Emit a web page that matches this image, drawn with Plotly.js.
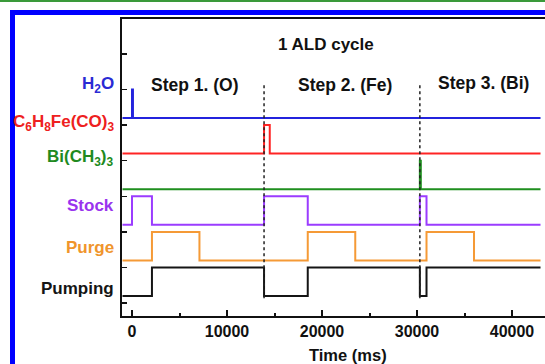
<!DOCTYPE html>
<html>
<head>
<meta charset="utf-8">
<script src="https://cdn.plot.ly/plotly-3.0.1.min.js"></script>
<style>html,body{margin:0;padding:0;background:#fff}#chart{width:545px;height:364px}</style>
</head>
<body>
<div id="chart"></div>
<script>
// Signal names (top to bottom)
const signalNames = ["H<sub>2</sub>O", "C<sub>6</sub>H<sub>8</sub>Fe(CO)<sub>3</sub>", "Bi(CH<sub>3</sub>)<sub>3</sub>", "Stock", "Purge", "Pumping"];
// Switching times (ms) and on/off states for each signal (step "hv")
const h2oTimes   = [-1000, 0, 100, 43000];
const h2oStates  = [0, 1, 0, 0];
const feTimes    = [-1000, 13900, 14500, 43000];
const feStates   = [0, 1, 0, 0];
const biTimes    = [-1000, 30300, 30400, 43000];
const biStates   = [0, 1, 0, 0];
const stockTimes = [-1000, 0, 2100, 13900, 18500, 30300, 31000, 43000];
const stockStates= [0, 1, 0, 1, 0, 1, 0, 0];
const purgeTimes = [-1000, 2100, 7100, 18500, 23500, 31000, 36000, 43000];
const purgeStates= [0, 1, 0, 1, 0, 1, 0, 0];
const pumpTimes  = [-1000, 2100, 13900, 18500, 30300, 31000, 43000];
const pumpStates = [0, 1, 0, 1, 0, 1, 1];
// Step boundaries (ms) and step labels
const stepBounds = [13900, 30300];
const stepLabels = ["Step 1. (O)", "Step 2. (Fe)", "Step 3. (Bi)"];
const stepLabelX = [6630, 22420, 36950];
const xTickVals = [0, 10000, 20000, 30000, 40000];

const colors = ["#2323dd", "#ff2424", "#1f8f1f", "#9b3cff", "#f59a36", "#151515"];
const labelColors = ["#2a2ad4", "#ee2020", "#208a20", "#9933ee", "#f0952c", "#151515"];
const series = [
  [h2oTimes, h2oStates], [feTimes, feStates], [biTimes, biStates],
  [stockTimes, stockStates], [purgeTimes, purgeStates], [pumpTimes, pumpStates]
];
const amp = 0.8;
const n = series.length;
const traces = series.map((s, i) => {
  const off = n - 1 - i;
  return {
    x: s[0], y: s[1].map(v => off + v * amp),
    type: 'scatter', mode: 'lines', line: {shape: 'hv', color: colors[i], width: 2},
    hoverinfo: 'skip', showlegend: false
  };
});

const fontB = {family: 'Liberation Sans, Arial, sans-serif', size: 16, weight: 'bold', color: '#111'};
const labelY = [5.93, 4.86, 3.88, 2.53, 1.35, 0.22];
const annotations = [];
signalNames.forEach((t, i) => annotations.push({
  text: t, xref: 'paper', yref: 'y', x: -0.014, y: labelY[i], xanchor: 'right', yanchor: 'middle',
  showarrow: false, font: Object.assign({}, fontB, {color: labelColors[i], size: 17})
}));
stepLabels.forEach((t, i) => annotations.push({
  text: t, xref: 'x', yref: 'y', x: stepLabelX[i], y: i === 2 ? 5.98 : 5.93, xanchor: 'center', yanchor: 'middle',
  showarrow: false, font: Object.assign({}, fontB, {size: 17.5})
}));
annotations.push({text: '1 ALD cycle', xref: 'x', yref: 'paper', x: 20470, y: 0.915, xanchor: 'center', yanchor: 'middle',
  showarrow: false, font: Object.assign({}, fontB, {size: 17})});
annotations.push({text: 'Time (ms)', xref: 'x', yref: 'paper', x: 22740, y: -0.131, xanchor: 'center', yanchor: 'middle',
  showarrow: false, font: Object.assign({}, fontB, {size: 16.5})});

const shapes = stepBounds.map(b => ({
  type: 'line', xref: 'x', yref: 'y', x0: b, x1: b, y0: -0.06, y1: 5.98,
  line: {color: '#222', width: 1.5, dash: 'dot'}
}));
// decorative frame lines
shapes.push({type: 'line', xref: 'paper', yref: 'paper', x0: -0.3, x1: 1.1, y0: 1 + 18/297, y1: 1 + 18/297, line: {color: '#3a9a3a', width: 2}});
shapes.push({type: 'line', xref: 'paper', yref: 'paper', x0: (12.5-122)/423, x1: 1.1, y0: 1 + 6.5/297, y1: 1 + 6.5/297, line: {color: '#0000ff', width: 5}});
shapes.push({type: 'line', xref: 'paper', yref: 'paper', x0: (12.5-122)/423, x1: (12.5-122)/423, y0: 1 + 9/297, y1: -0.2, line: {color: '#0000ff', width: 5}});

const layout = {
  width: 545, height: 364,
  margin: {l: 122, r: 0, t: 19, b: 48},
  paper_bgcolor: '#fff', plot_bgcolor: '#fff',
  showlegend: false,
  xaxis: {
    range: [-1053, 43473], showgrid: false, zeroline: false,
    showline: true, linecolor: '#111', linewidth: 2, mirror: true,
    ticks: 'inside', ticklen: 6, tickwidth: 2, tickcolor: '#111',
    tickvals: xTickVals, ticktext: xTickVals.map(String),
    minor: {dtick: 5000, tick0: 0, ticks: 'inside', ticklen: 3, tickwidth: 2, tickcolor: '#111'},
    tickfont: fontB
  },
  yaxis: {
    range: [-0.56, 7.78], showgrid: false, zeroline: false,
    showline: true, linecolor: '#111', linewidth: 2,
    ticks: 'inside', ticklen: 5, tickwidth: 1.5, tickcolor: '#111',
    tick0: -0.2, dtick: 1, showticklabels: false
  },
  annotations: annotations,
  shapes: shapes
};
Plotly.newPlot('chart', traces, layout, {staticPlot: true, displayModeBar: false});
</script>
</body>
</html>
